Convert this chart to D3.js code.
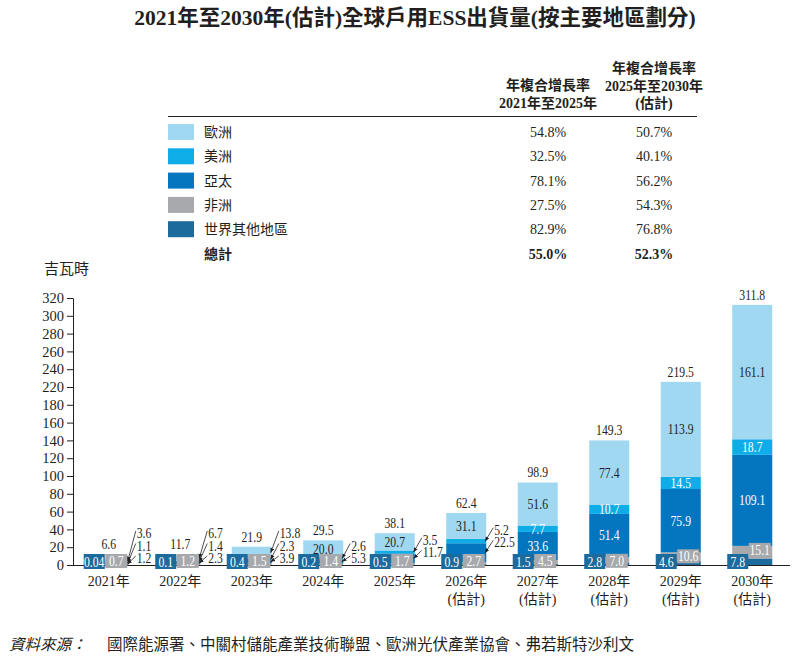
<!DOCTYPE html>
<html>
<head>
<meta charset="utf-8">
<script src="https://cdn.jsdelivr.net/npm/d3@7"></script>
<style>
body { margin: 0; background: #fff; }
text { font-family: "Liberation Serif", "Noto Sans CJK TC", serif; }
</style>
</head>
<body>
<div id="chart"></div>
<script>
const years = ["2021", "2022", "2023", "2024", "2025", "2026", "2027", "2028", "2029", "2030"];
const estimated = [false, false, false, false, false, true, true, true, true, true];

// stack order, bottom to top
const rowValues = [0.04, 0.1, 0.4, 0.2, 0.5, 0.9, 1.5, 2.8, 4.6, 7.8];
const africaValues = [0.7, 1.2, 1.5, 1.4, 1.7, 2.7, 4.5, 7.0, 10.6, 15.1];
const apacValues = [1.2, 2.3, 3.9, 5.3, 11.7, 22.5, 33.6, 51.4, 75.9, 109.1];
const americasValues = [1.1, 1.4, 2.3, 2.6, 3.5, 5.2, 7.7, 10.7, 14.5, 18.7];
const europeValues = [3.6, 6.7, 13.8, 20.0, 20.7, 31.1, 51.6, 77.4, 113.9, 161.1];
const totalValues = [6.6, 11.7, 21.9, 29.5, 38.1, 62.4, 98.9, 149.3, 219.5, 311.8];

// legend table, top to bottom
const legendNames = ["歐洲", "美洲", "亞太", "非洲", "世界其他地區"];
const cagr2125 = ["54.8%", "32.5%", "78.1%", "27.5%", "82.9%"];
const cagr2530 = ["50.7%", "40.1%", "56.2%", "54.3%", "76.8%"];
const totalCagr = ["55.0%", "52.3%"];

// tick labels as printed (200 is missing in the original)
const yTickLabels = ["0", "20", "40", "60", "80", "100", "120", "140", "160", "180",
    "220", "240", "260", "280", "300", "320"];

// how many of 亞太/美洲/歐洲 get labels outside the bar
const outsideCount = [3, 3, 3, 2, 2, 2, 0, 0, 0, 0];

const ink = "#231f20";
const colors = {
    row: "#1d6a9c",
    africa: "#a7a9ac",
    apac: "#0476bf",
    americas: "#0eade8",
    europe: "#a1d8f1"
};
const legendColors = [colors.europe, colors.americas, colors.apac, colors.africa, colors.row];

const width = 801, height = 666;
const svg = d3.select("#chart").append("svg")
    .attr("width", width)
    .attr("height", height)
    .attr("fill", ink);

svg.append("defs").append("marker")
    .attr("id", "arr")
    .attr("viewBox", "0 0 10 10")
    .attr("refX", 9).attr("refY", 5)
    .attr("markerWidth", 6).attr("markerHeight", 6)
    .attr("orient", "auto")
    .append("path")
    .attr("d", "M0,1L10,5L0,9z")
    .attr("fill", ink);

// title
svg.append("text")
    .attr("x", 415).attr("y", 25)
    .attr("text-anchor", "middle")
    .attr("font-size", 21.5)
    .attr("font-weight", "bold")
    .text("2021年至2030年(估計)全球戶用ESS出貨量(按主要地區劃分)");

// legend table
const colX1 = 548, colX2 = 654;
const header = svg.append("g").attr("font-weight", "bold").attr("font-size", 14).attr("text-anchor", "middle");
header.append("text").attr("x", colX1).attr("y", 90).text("年複合增長率");
header.append("text").attr("x", colX1).attr("y", 108).text("2021年至2025年");
header.append("text").attr("x", colX2).attr("y", 73).text("年複合增長率");
header.append("text").attr("x", colX2).attr("y", 91).text("2025年至2030年");
header.append("text").attr("x", colX2).attr("y", 108).text("(估計)");

svg.append("line")
    .attr("x1", 168).attr("x2", 697)
    .attr("y1", 116.5).attr("y2", 116.5)
    .attr("stroke", ink).attr("stroke-width", 1);

const rowY = d3.scaleLinear().domain([0, 1]).range([132, 156.3]);
const legend = svg.append("g").attr("font-size", 14);
legendNames.forEach((name, i) => {
    const cy = rowY(i);
    legend.append("rect")
        .attr("x", 168).attr("y", cy - 8)
        .attr("width", 26).attr("height", 16)
        .attr("fill", legendColors[i]);
    legend.append("text").attr("x", 204).attr("y", cy + 5).text(name);
    legend.append("text").attr("x", colX1).attr("y", cy + 5).attr("text-anchor", "middle").text(cagr2125[i]);
    legend.append("text").attr("x", colX2).attr("y", cy + 5).attr("text-anchor", "middle").text(cagr2530[i]);
});
const totalY = 254;
legend.append("text").attr("x", 204).attr("y", totalY + 5).attr("font-weight", "bold").text("總計");
legend.append("text").attr("x", colX1).attr("y", totalY + 5).attr("text-anchor", "middle").attr("font-weight", "bold").text(totalCagr[0]);
legend.append("text").attr("x", colX2).attr("y", totalY + 5).attr("text-anchor", "middle").attr("font-weight", "bold").text(totalCagr[1]);

// scales
const x = d3.scaleBand()
    .domain(years)
    .range([73, 788])
    .paddingInner(0.44)
    .paddingOuter(0.22);

const y = d3.scaleLinear()
    .domain([0, 320])
    .range([565, 298]);

// y axis
svg.append("text")
    .attr("x", 44).attr("y", 274)
    .attr("font-size", 15)
    .text("吉瓦時");

const yAxis = d3.axisLeft(y)
    .tickValues(yTickLabels.map((d, i) => i * 320 / 15))
    .tickFormat((d, i) => yTickLabels[i])
    .tickSize(6)
    .tickSizeOuter(0);

const yg = svg.append("g")
    .attr("transform", "translate(73,0)")
    .call(yAxis);
yg.select(".domain").attr("stroke", ink);
yg.selectAll(".tick line").attr("stroke", ink);
yg.selectAll(".tick text")
    .attr("font-size", 14.5)
    .attr("font-family", "Liberation Serif")
    .attr("fill", ink)
    .attr("x", -9);

// stacked bars
const series = [
    { key: "row", values: rowValues },
    { key: "africa", values: africaValues },
    { key: "apac", values: apacValues },
    { key: "americas", values: americasValues },
    { key: "europe", values: europeValues }
];

const table = years.map((yr, i) => {
    const o = { year: yr };
    series.forEach(s => { o[s.key] = s.values[i]; });
    return o;
});

const stacked = d3.stack().keys(series.map(s => s.key))(table);

svg.append("g")
    .selectAll("g")
    .data(stacked)
    .join("g")
    .attr("fill", d => colors[d.key])
    .selectAll("rect")
    .data(d => d)
    .join("rect")
    .attr("x", d => x(d.data.year))
    .attr("y", d => y(d[1]))
    .attr("width", x.bandwidth())
    .attr("height", d => y(d[0]) - y(d[1]));

// baseline
svg.append("line")
    .attr("x1", 73).attr("x2", 790)
    .attr("y1", 565.5).attr("y2", 565.5)
    .attr("stroke", ink).attr("stroke-width", 1.2);

// condensed number labels
const labels = svg.append("g");
function numText(px, py, str, fill) {
    labels.append("text")
        .attr("transform", `translate(${px},${py}) scale(0.78,1)`)
        .attr("text-anchor", "middle")
        .attr("font-size", 15)
        .attr("fill", fill || ink)
        .text(str);
}
function numTextStart(px, py, str) {
    labels.append("text")
        .attr("transform", `translate(${px},${py}) scale(0.78,1)`)
        .attr("font-size", 15)
        .attr("fill", ink)
        .text(str);
}

const byKey = {};
stacked.forEach(s => { byKey[s.key] = s; });
const upper = ["apac", "americas", "europe"];

years.forEach((yr, i) => {
    const left = x(yr);
    const right = left + x.bandwidth();
    const cx = left + x.bandwidth() / 2;

    // label boxes for the two bottom series
    const rowBox = { x: left - 5, y: 554, w: 21, h: 15 };
    labels.append("rect")
        .attr("x", rowBox.x).attr("y", rowBox.y)
        .attr("width", rowBox.w).attr("height", rowBox.h)
        .attr("fill", colors.row);
    numText(rowBox.x + rowBox.w / 2, rowBox.y + 12.5, String(rowValues[i]), "#fff");

    const greyTop = y(byKey.africa[i][1]);
    const afBox = { x: left + 16.5, y: Math.min(554, greyTop - 3), w: 22, h: 14 };
    labels.append("rect")
        .attr("x", afBox.x).attr("y", afBox.y)
        .attr("width", afBox.w).attr("height", afBox.h)
        .attr("fill", colors.africa);
    numText(afBox.x + afBox.w / 2, afBox.y + 12, africaValues[i].toFixed(1), "#fff");

    // total above bar
    numText(cx, Math.min(y(totalValues[i]) - 5, 549), totalValues[i].toFixed(1));

    // upper segments
    const nOut = outsideCount[i];
    let ly = Math.min(558, y(byKey.apac[i][1]) - 1);
    upper.forEach((key, k) => {
        const d = byKey[key][i];
        const str = series.find(s => s.key === key).values[i].toFixed(1);
        const mid = (y(d[0]) + y(d[1])) / 2;
        if (k < nOut) {
            numTextStart(right + 8, ly + 5, str);
            labels.append("line")
                .attr("x1", right + 7).attr("y1", ly - 2)
                .attr("x2", right - 1).attr("y2", Math.max(mid, y(d[1])))
                .attr("stroke", ink)
                .attr("stroke-width", 0.8)
                .attr("marker-end", "url(#arr)");
            ly -= 12.5;
        } else {
            numText(cx, mid + 5, str, key === "europe" ? ink : "#fff");
        }
    });

    // x labels
    svg.append("text")
        .attr("x", cx).attr("y", 586)
        .attr("text-anchor", "middle")
        .attr("font-size", 14)
        .text(yr + "年");
    if (estimated[i]) {
        svg.append("text")
            .attr("x", cx).attr("y", 604)
            .attr("text-anchor", "middle")
            .attr("font-size", 14)
            .text("(估計)");
    }
});

// source
svg.append("text")
    .attr("x", 9).attr("y", 650)
    .attr("font-size", 15.5)
    .attr("font-style", "italic")
    .text("資料來源：");
svg.append("text")
    .attr("x", 107).attr("y", 650)
    .attr("font-size", 15.5)
    .text("國際能源署、中關村儲能產業技術聯盟、歐洲光伏產業協會、弗若斯特沙利文");
</script>
</body>
</html>
